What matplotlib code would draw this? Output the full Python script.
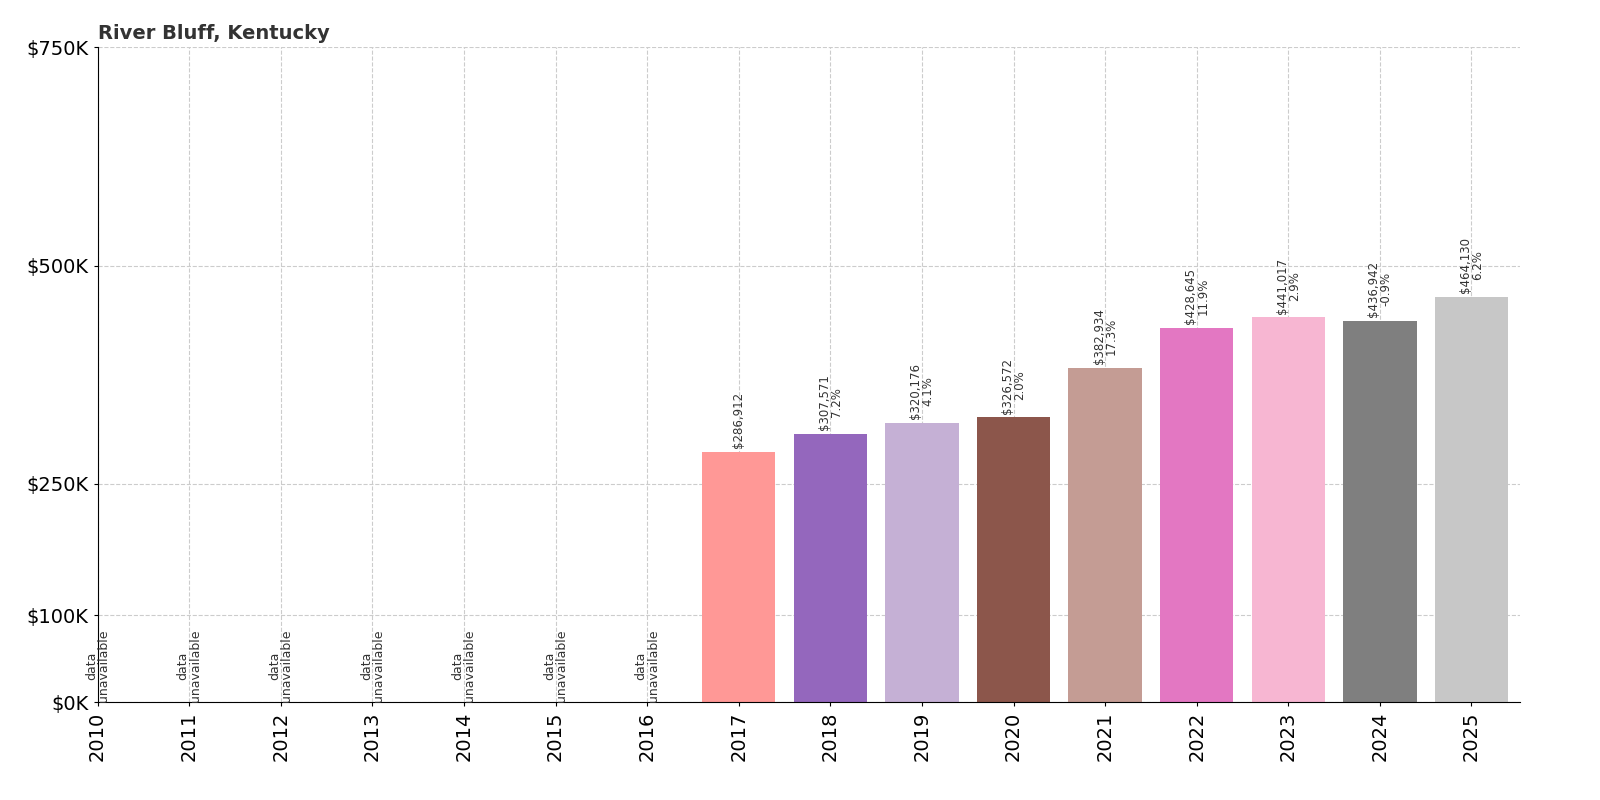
import matplotlib
matplotlib.use("Agg")
import matplotlib.pyplot as plt

years = list(range(2010, 2026))
values = [None]*7 + [286912, 307571, 320176, 326572, 382934, 428645, 441017, 436942, 464130]
changes = [None]*8 + ["7.2%", "4.1%", "2.0%", "17.3%", "11.9%", "2.9%", "-0.9%", "6.2%"]
colors = ["#ff9896", "#9467bd", "#c5b0d5", "#8c564b", "#c49c94", "#e377c2", "#f7b6d2", "#7f7f7f", "#c7c7c7"]
yticks = [0, 100000, 250000, 500000, 750000]
ylabels = ["$0K", "$100K", "$250K", "$500K", "$750K"]

fig = plt.figure(figsize=(16, 8), dpi=100)
ax = fig.add_axes([0.061, 0.122, 0.889, 0.819])
ci = 0
for y, v, c in zip(years, values, changes):
    if v is None:
        ax.text(y, 0, "data\nunavailable", rotation=90, ha="center", va="bottom",
                fontsize=9, color="#333333", linespacing=0.9)
        continue
    ax.bar(y, v, width=0.8, color=colors[ci], zorder=2)
    ci += 1
    lab = f"${v:,}" + (f"\n{c}" if c else "")
    ax.text(y, v + 4000, lab, rotation=90, ha="center", va="bottom",
            fontsize=8.5, color="#333333", linespacing=0.9)

ax.set_xlim(2010, 2025.53)
ax.set_ylim(0, 750000)
ax.set_xticks(years)
ax.set_xticklabels([str(y) for y in years], rotation=90, fontsize=14)
ax.set_yticks(yticks)
ax.set_yticklabels(ylabels, fontsize=14)
ax.grid(True, linestyle="--", color="#cccccc", linewidth=0.8, zorder=0)
ax.set_axisbelow(True)
for s in ["top", "right"]:
    ax.spines[s].set_visible(False)
ax.tick_params(length=3)
ax.set_title("River Bluff, Kentucky", loc="left", fontsize=14, fontweight="bold",
             color="#333333", pad=6)
fig.savefig("out.png")
